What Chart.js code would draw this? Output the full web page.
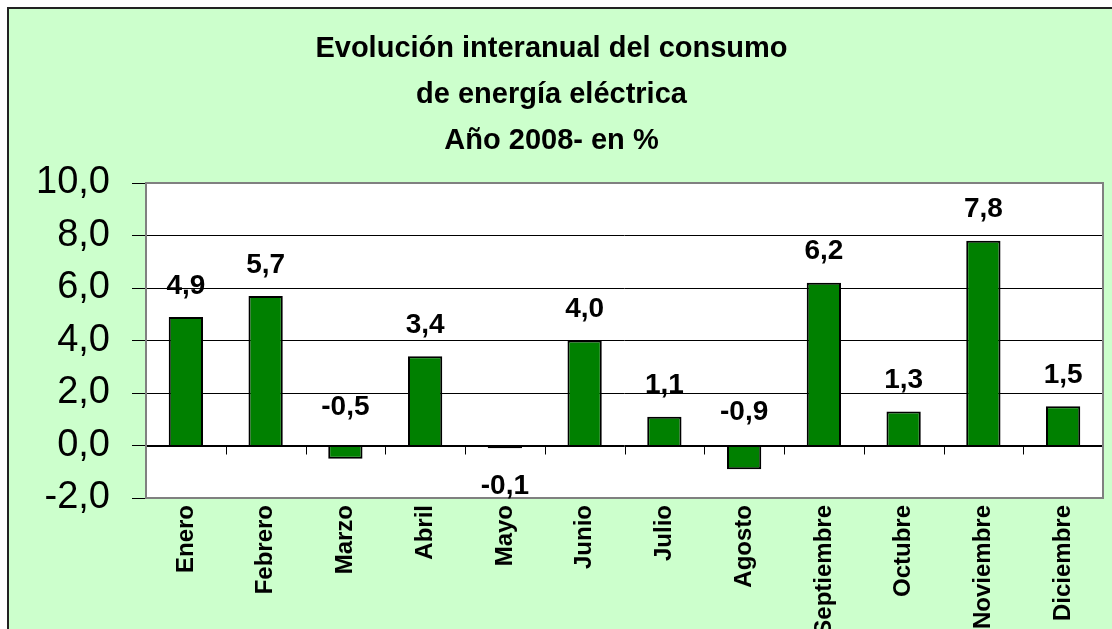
<!DOCTYPE html>
<html>
<head>
<meta charset="utf-8">
<script src="https://cdn.jsdelivr.net/npm/chart.js@4/dist/chart.umd.min.js"></script>
<style>
  body { margin: 0; background: #fff; overflow: hidden; }
  canvas { display: block; }
</style>
</head>
<body>
<canvas id="ch1" width="1112" height="629"></canvas>
<script>
// data
const months = ['Enero', 'Febrero', 'Marzo', 'Abril', 'Mayo', 'Junio',
  'Julio', 'Agosto', 'Septiembre', 'Octubre', 'Noviembre', 'Diciembre'];
const consumo = [4.9, 5.7, -0.5, 3.4, -0.1, 4.0, 1.1, -0.9, 6.2, 1.3, 7.8, 1.5];
const titleLines = ['Evolución interanual del consumo', 'de energía eléctrica', 'Año 2008- en %'];

const fmt = v => v.toFixed(1).replace('.', ',');
const FONT = 'Arial, "Liberation Sans", sans-serif';

// background, frame and plot area
const frame = {
  id: 'frame',
  beforeDraw(chart) {
    const c = chart.ctx, a = chart.chartArea;
    c.save();
    c.fillStyle = '#fff';
    c.fillRect(0, 0, chart.width, chart.height);
    c.fillStyle = '#CCFFCC';
    c.fillRect(8, 8, chart.width, chart.height);
    c.strokeStyle = '#222';
    c.lineWidth = 2;
    c.beginPath();
    c.moveTo(8, chart.height);
    c.lineTo(8, 8);
    c.lineTo(chart.width, 8);
    c.stroke();
    c.fillStyle = '#fff';
    c.fillRect(a.left, a.top, a.right - a.left, a.bottom - a.top);
    c.restore();
  },
  afterDatasetsDraw(chart) {
    const c = chart.ctx, a = chart.chartArea;
    const x = chart.scales.x, y = chart.scales.y;
    const y0 = Math.round(y.getPixelForValue(0)) + 0.5;
    c.save();
    // zero line with tick marks between months
    c.strokeStyle = '#000';
    c.lineWidth = 1;
    c.beginPath();
    c.moveTo(a.left, y0);
    c.lineTo(a.right, y0);
    for (let i = 0; i <= months.length; i++) {
      const px = Math.round(x.getPixelForValue(i - 0.5)) + 0.5;
      c.moveTo(px, y0);
      c.lineTo(px, y0 + 8);
    }
    c.stroke();
    // plot border
    c.strokeStyle = '#808080';
    c.lineWidth = 2;
    c.strokeRect(a.left, a.top, a.right - a.left, a.bottom - a.top);
    c.restore();
  }
};

// value labels, offsets picked to follow the original placement
const valueLabels = {
  id: 'valueLabels',
  afterDraw(chart, args, opts) {
    const c = chart.ctx;
    const meta = chart.getDatasetMeta(0);
    const y = chart.scales.y;
    c.save();
    c.font = 'bold 28px ' + FONT;
    c.fillStyle = '#000';
    c.textAlign = 'center';
    c.textBaseline = 'middle';
    meta.data.forEach((bar, i) => {
      const v = consumo[i];
      let py;
      if (v >= 0) py = bar.y - 31;
      else py = y.getPixelForValue(0) + opts.neg[i];
      c.fillText(fmt(v), bar.x, py);
    });
    c.restore();
  }
};

new Chart(document.getElementById('ch1'), {
  type: 'bar',
  data: {
    labels: months,
    datasets: [{
      data: consumo,
      backgroundColor: '#008000',
      borderColor: '#000',
      borderWidth: 2,
      barPercentage: 0.43,
      categoryPercentage: 1
    }]
  },
  options: {
    responsive: false,
    animation: false,
    layout: { padding: { left: 0, right: 9, top: 0, bottom: 0 } },
    plugins: {
      legend: { display: false },
      tooltip: { enabled: false },
      title: {
        display: true,
        text: titleLines,
        color: '#000',
        font: { family: FONT, size: 29, weight: 'bold', lineHeight: 46 / 29 },
        padding: { top: 26, bottom: 19 }
      },
      valueLabels: { neg: { 2: -38, 4: 41, 7: -33 } }
    },
    scales: {
      x: {
        grid: { display: false, drawTicks: false },
        border: { display: false },
        ticks: {
          color: '#000',
          font: { family: FONT, size: 24, weight: 'bold' },
          minRotation: 90,
          maxRotation: 90,
          autoSkip: false,
          padding: 7
        },
        afterFit(s) { s.height = 131; }
      },
      y: {
        min: -2,
        max: 10,
        grid: { color: '#000', lineWidth: 1, tickLength: 14 },
        border: { display: false },
        ticks: {
          stepSize: 2,
          color: '#000',
          font: { family: FONT, size: 38 },
          padding: 22,
          callback: v => fmt(v)
        },
        afterFit(s) { s.width = 146; }
      }
    }
  },
  plugins: [frame, valueLabels]
});
</script>
</body>
</html>
